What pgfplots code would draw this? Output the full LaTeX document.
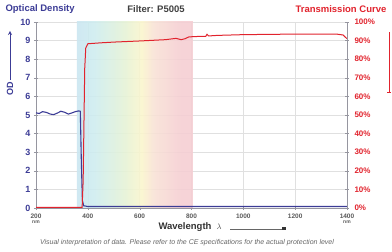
\documentclass[border=0pt]{standalone}
\usepackage{fontspec}
\setmainfont{Liberation Sans}
\usepackage{pgfplots}
\pgfplotsset{compat=1.18}
\definecolor{odblue}{RGB}{60,60,150}
\definecolor{tred}{RGB}{225,35,45}
\definecolor{axgray}{RGB}{150,150,160}
\definecolor{sp0}{RGB}{226,218,236}
\definecolor{sp1}{RGB}{202,218,240}
\definecolor{sp2}{RGB}{200,226,242}
\definecolor{sp3}{RGB}{206,236,240}
\definecolor{sp4}{RGB}{228,242,215}
\definecolor{sp5}{RGB}{250,245,205}
\definecolor{sp6}{RGB}{248,226,214}
\definecolor{sp7}{RGB}{245,206,211}
\definecolor{sp8}{RGB}{243,206,211}
\definecolor{sp9}{RGB}{250,240,242}
\pgfdeclarehorizontalshading{spectrum}{100bp}{color(0bp)=(sp0); color(7bp)=(sp1); color(20bp)=(sp2); color(32bp)=(sp3); color(45bp)=(sp4); color(53bp)=(sp5); color(58bp)=(sp6); color(70bp)=(sp7); color(90bp)=(sp8); color(100bp)=(sp9)}
\begin{document}
\begin{tikzpicture}
\useasboundingbox (-36pt,-44pt) rectangle (356pt,208pt);
\begin{axis}[
  at={(0pt,0pt)}, anchor=south west,
  scale only axis, width=311pt, height=186pt,
  xmin=200, xmax=1400, ymin=0, ymax=10,
  axis y line*=left, axis x line*=bottom,
  axis line style={axgray, line width=0.8pt},
  xtick={200,400,...,1400},
  xticklabels={{200\\[-2pt]{\tiny nm}},400,600,800,1000,1200,{1400\\[-2pt]{\tiny nm}}},
  xticklabel style={align=center, font=\bfseries\fontsize{6.5}{7}\selectfont, text=black!65, anchor=north},
  ytick={0,1,...,10},
  yticklabel style={font=\bfseries\small, text=odblue},
  tick align=center, tick style={axgray},
  major tick length=4pt,
  ymajorgrids, xmajorgrids,
  grid style={black!12, line width=0.4pt},
  /pgf/number format/assume math mode=true,
  clip=false,
]
\addplot[draw=none, shading=spectrum, fill opacity=0.9] coordinates {(358,0) (358,10) (805,10) (805,0)} -- cycle;
\addplot[odblue, line width=1.1pt] coordinates {
(200,5.12) (212,5.08) (225,5.18) (240,5.14) (255,5.05) (268,5.02) (282,5.10) (296,5.20) (310,5.15) (325,5.05) (340,5.12) (352,5.18) (364,5.22) (371,5.20) (375,2.5) (379,0.4) (384,0.12) (400,0.08) (800,0.08) (1400,0.08)};
\end{axis}
\begin{axis}[
  at={(0pt,0pt)}, anchor=south west,
  scale only axis, width=311pt, height=186pt,
  xmin=200, xmax=1400, ymin=0, ymax=100,
  axis y line*=right, axis x line=none,
  axis line style={axgray, line width=0.8pt},
  ytick={0,10,...,100},
  yticklabel={\pgfmathprintnumber{\tick}\%},
  yticklabel style={font=\bfseries\footnotesize, text=tred, xshift=2pt},
  tick align=center, tick style={axgray}, major tick length=4pt,
  /pgf/number format/assume math mode=true,
]
\addplot[tred, line width=1pt] coordinates {
(200,0.3) (378,0.3) (382,15) (385,45) (388,75) (392,86) (400,88.3) (450,88.8) (500,89.2) (600,89.8) (700,90.5) (740,91.2) (760,90.5) (775,91.0) (790,92.0) (820,92.2) (855,92.3) (860,93.4) (866,92.5) (900,92.8) (1000,93.2) (1200,93.5) (1360,93.5) (1385,93) (1400,91)};
\end{axis}
\node[anchor=west, text=odblue, font=\bfseries\fontsize{9.5}{10}\selectfont] at (-34pt,199pt) {Optical Density};
\node[text=black!75, font=\bfseries\fontsize{9.5}{10}\selectfont] at (120pt,199pt) {Filter: P5005};
\node[anchor=west, text=tred, font=\bfseries\fontsize{9.5}{10}\selectfont] at (256pt,199pt) {Transmission Curve};
\node[rotate=90, text=odblue, font=\bfseries\small] at (-26pt,119pt) {OD};
\draw[odblue, line width=0.8pt, -stealth] (-26pt,128pt) -- (-26pt,177pt);
\draw[tred, line width=0.8pt] (353pt,116pt) -- (353pt,176pt);
\draw[tred, line width=0.8pt] (351pt,116pt) -- (355pt,116pt);
\node[text=black!80, font=\bfseries\fontsize{9.5}{10}\selectfont] at (149pt,-19pt) {Wavelength};
\node[text=black!70, font=\bfseries\fontsize{8}{9}\selectfont] at (183pt,-19pt) {$\lambda$};
\draw[black!60, line width=0.6pt] (194pt,-21pt) -- (247pt,-21pt);
\fill[black!80] (246pt,-22.5pt) rectangle (250pt,-19.5pt);
\node[text=black!60, font=\itshape\fontsize{7}{8}\selectfont] at (151pt,-35pt) {Visual interpretation of data. Please refer to the CE specifications for the actual protection level};
\end{tikzpicture}
\end{document}
